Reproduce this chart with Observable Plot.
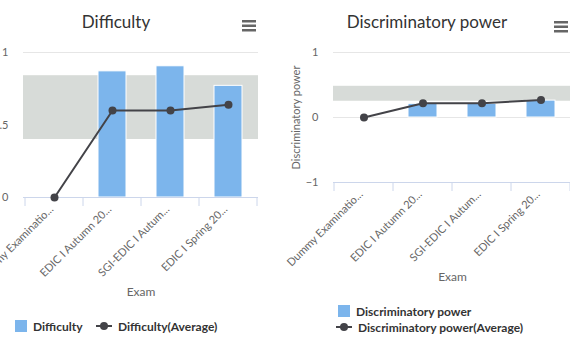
<!DOCTYPE html>
<html>
<head>
<meta charset="utf-8">
<script src="https://cdn.jsdelivr.net/npm/d3@7"></script>
<script src="https://cdn.jsdelivr.net/npm/@observablehq/plot@0.6"></script>
<style>
  html, body { margin: 0; padding: 0; background: #fff; overflow: hidden; }
  #wrap { position: relative; width: 570px; height: 350px; overflow: hidden; font-family: Lato, "Open Sans", sans-serif; }
  .abs { position: absolute; }
  .title { font-size: 17px; color: #333; white-space: nowrap; transform: translateX(-50%); }
  .legend { font-size: 12px; font-weight: bold; color: #333; white-space: nowrap; }
  .legend .item { position: absolute; display: flex; align-items: center; height: 14px; }
  .legend svg { margin-right: 6px; }
  svg { overflow: visible; }
</style>
</head>
<body>
<div id="wrap"></div>
<script>
// ---- data ----
const exams = ["Dummy Examinatio...", "EDIC I Autumn 20...", "SGI-EDIC I Autum...", "EDIC I Spring 20..."];
const difficulty = [0, 0.87, 0.905, 0.77];
const difficultyAvg = [0, 0.6, 0.6, 0.64];
const difficultyBand = [0.40, 0.84];
const difficultyTicks = [0, 0.5, 1];

const discrim = [0, 0.21, 0.21, 0.26];
const discrimAvg = [0, 0.22, 0.22, 0.27];
const discrimBand = [0.25, 0.48];
const discrimTicks = [-1, 0, 1];

const titles = ["Difficulty", "Discriminatory power"];
const xTitle = "Exam";

const BAR = "#7cb5ec", LINE = "#434348", BANDC = "#d7dbd8", GRID = "#e6e6e6", AXIS = "#ccd6eb", LABEL = "#666666";

function dividers(index, scales, values, dims) {
  const x = scales.x;
  const bw = x.bandwidth ? x.bandwidth() : 0;
  const yb = dims.height - dims.marginBottom;
  const edges = exams.map(c => x(c)).concat([x(exams[exams.length - 1]) + bw]);
  const g = d3.create("svg:g");
  g.selectAll("line").data(edges).join("line")
    .attr("x1", d => d).attr("x2", d => d)
    .attr("y1", yb).attr("y2", yb + 9)
    .attr("stroke", AXIS).attr("stroke-width", 1);
  return g.node();
}

const fmt = d => d < 0 ? "\u2212" + (-d) : String(d);

function makeChart({values, avg, band, ticks, width, marginLeft, marginRight, plotHeight, yTitle}) {
  const rows = exams.map((e, i) => ({exam: e, v: values[i], a: avg[i]}));
  const marks = [
    Plot.gridY(ticks, {stroke: GRID, strokeOpacity: 1}),
    Plot.rect([{lo: band[0], hi: band[1]}], {y1: "lo", y2: "hi", fill: BANDC}),
    Plot.barY(rows.filter(r => r.v > 0), {x: "exam", y: "v", fill: BAR, stroke: "white", strokeWidth: 1, insetLeft: 15, insetRight: 15}),
    Plot.ruleY([ticks[0]], {stroke: AXIS}),
    dividers,
    Plot.line(rows, {x: "exam", y: "a", stroke: LINE, strokeWidth: 2}),
    Plot.dot(rows, {x: "exam", y: "a", r: 4, fill: LINE}),
    Plot.axisY(ticks, {tickSize: 0, tickPadding: 15, fill: LABEL, fontSize: 11, label: null, tickFormat: fmt}),
    Plot.text(exams, {x: d => d, text: d => d, frameAnchor: "bottom", rotate: -45, textAnchor: "end", lineAnchor: "middle", dx: -3, dy: 10, fontSize: 11, fill: LABEL}),
    Plot.text([xTitle], {frameAnchor: "bottom", dy: 98, fontSize: 12, fill: LABEL})
  ];
  if (yTitle) marks.push(Plot.text([yTitle], {frameAnchor: "left", rotate: -90, textAnchor: "middle", dx: -37, fontSize: 11, fill: LABEL}));
  return Plot.plot({
    width, height: 12 + plotHeight + 105,
    marginTop: 12, marginBottom: 105, marginLeft, marginRight,
    style: {fontFamily: "Lato, 'Open Sans', sans-serif", background: "transparent", overflow: "visible"},
    x: {type: "band", domain: exams, padding: 0, axis: null},
    y: {domain: [ticks[0], ticks[ticks.length - 1]], axis: null},
    marks
  });
}

const wrap = document.getElementById("wrap");

function place(el, left, top) { el.classList.add("abs"); el.style.left = left + "px"; el.style.top = top + "px"; wrap.appendChild(el); return el; }

function burger(left, top) {
  const s = d3.create("svg").attr("width", 15).attr("height", 12);
  [0, 4.5, 9].forEach(y => s.append("rect").attr("x", 0).attr("y", y).attr("width", 14).attr("height", 2.5).attr("fill", "#666"));
  place(s.node(), left, top);
}

function title(text, cx, top) {
  const d = document.createElement("div");
  d.className = "title"; d.textContent = text;
  place(d, cx, top);
}

function legendItem(kind, label, left, cy) {
  const d = document.createElement("div");
  d.className = "legend";
  const item = document.createElement("div");
  item.className = "item";
  const s = d3.create("svg").attr("width", kind === "bar" ? 12 : 16).attr("height", 12);
  if (kind === "bar") s.append("rect").attr("width", 12).attr("height", 12).attr("fill", BAR);
  else {
    s.append("line").attr("x1", 0).attr("x2", 16).attr("y1", 6).attr("y2", 6).attr("stroke", LINE).attr("stroke-width", 2);
    s.append("circle").attr("cx", 8).attr("cy", 6).attr("r", 4).attr("fill", LINE);
  }
  item.appendChild(s.node());
  const t = document.createElement("span"); t.textContent = label; item.appendChild(t);
  d.appendChild(item);
  place(d, left, cy - 7);
}

// Left chart
const c1 = makeChart({values: difficulty, avg: difficultyAvg, band: difficultyBand, ticks: difficultyTicks, width: 285, marginLeft: 23, marginRight: 27, plotHeight: 145, yTitle: null});
place(c1, 0, 40);
title(titles[0], 116, 11);
burger(242, 20);
legendItem("bar", "Difficulty", 15, 326);
legendItem("line", "Difficulty(Average)", 96, 326);

// Right chart
const c2 = makeChart({values: discrim, avg: discrimAvg, band: discrimBand, ticks: discrimTicks, width: 288, marginLeft: 48, marginRight: 2, plotHeight: 130, yTitle: "Discriminatory power"});
place(c2, 285, 40);
title(titles[1], 427, 11);
burger(554, 21);
legendItem("bar", "Discriminatory power", 338, 311);
legendItem("line", "Discriminatory power(Average)", 336, 327);
</script>
</body>
</html>
